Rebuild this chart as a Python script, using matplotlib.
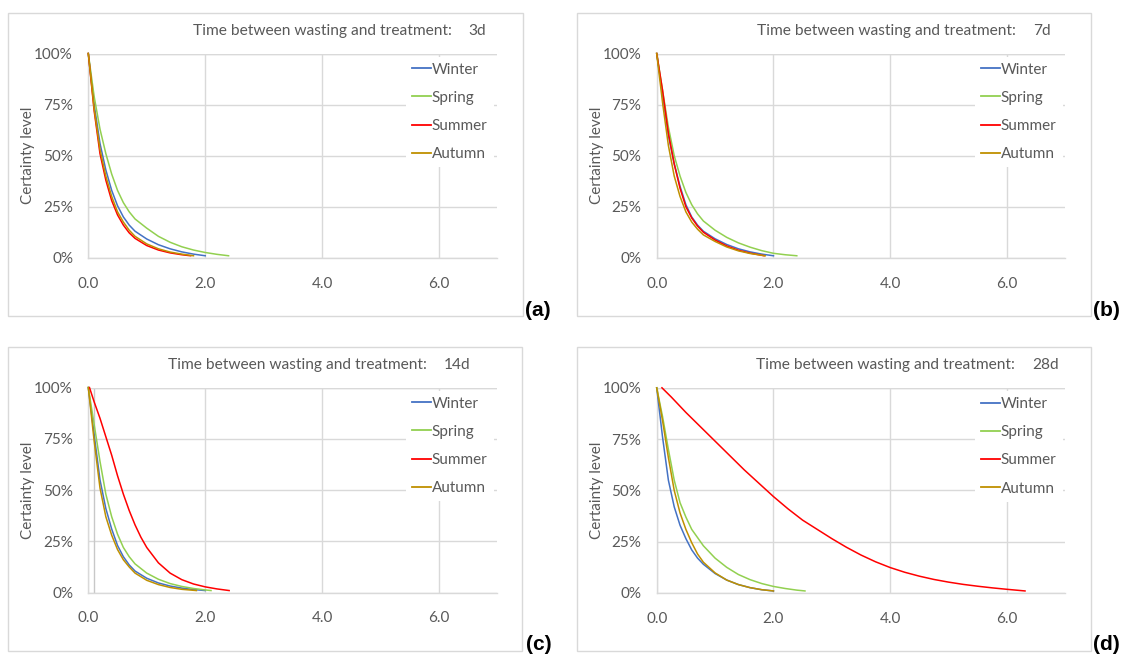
import matplotlib
matplotlib.use('Agg')
import matplotlib.pyplot as plt
from matplotlib.patches import Rectangle
from matplotlib.lines import Line2D
from matplotlib.ticker import FuncFormatter

# ---------------- data ----------------
seasons = ['Winter', 'Spring', 'Summer', 'Autumn']
panel_days = ['3d', '7d', '14d', '28d']
panel_tags = ['(a)', '(b)', '(c)', '(d)']
title_text = 'Time between wasting and treatment:'
ylabel_text = 'Certainty level'
x_ticks = [0.0, 2.0, 4.0, 6.0]
y_ticks = [0, 25, 50, 75, 100]

# panel (a) 3d
a_winter_x = [0, 0.1, 0.2, 0.3, 0.4, 0.5, 0.6, 0.7, 0.8, 1.0, 1.2, 1.4, 1.6, 1.8, 2.0]
a_winter_y = [100, 75, 56, 43, 33, 25.5, 20, 16, 13, 9.2, 6.4, 4.4, 2.9, 1.8, 1.0]
a_spring_x = [0, 0.1, 0.2, 0.3, 0.4, 0.5, 0.6, 0.7, 0.8, 1.0, 1.2, 1.4, 1.6, 1.8, 2.0, 2.2, 2.4]
a_spring_y = [100, 79, 63, 51, 41, 33, 27, 22.5, 19, 14.5, 10.5, 7.6, 5.4, 3.8, 2.6, 1.7, 1.0]
a_summer_x = [0, 0.1, 0.2, 0.3, 0.4, 0.5, 0.6, 0.7, 0.8, 1.0, 1.2, 1.4, 1.6, 1.75]
a_summer_y = [100, 72, 51, 38, 28, 21, 16, 12.2, 9.5, 6.0, 3.8, 2.4, 1.5, 1.0]
a_autumn_x = [0, 0.1, 0.2, 0.3, 0.4, 0.5, 0.6, 0.7, 0.8, 1.0, 1.2, 1.4, 1.6, 1.8]
a_autumn_y = [100, 73, 53, 40, 30, 22.5, 17.5, 13.5, 10.5, 6.8, 4.4, 2.8, 1.8, 1.0]

# panel (b) 7d
b_winter_x = [0, 0.1, 0.2, 0.3, 0.4, 0.5, 0.6, 0.7, 0.8, 1.0, 1.2, 1.4, 1.6, 1.8, 2.0]
b_winter_y = [100, 80, 60, 46, 35, 26, 20, 16, 13, 9.3, 6.5, 4.4, 2.9, 1.8, 1.0]
b_spring_x = [0, 0.1, 0.2, 0.3, 0.4, 0.5, 0.6, 0.7, 0.8, 1.0, 1.2, 1.4, 1.6, 1.8, 2.0, 2.2, 2.4]
b_spring_y = [100, 82, 64, 50, 40, 32, 26, 21.5, 18, 13.5, 10, 7.3, 5.2, 3.5, 2.2, 1.5, 1.0]
b_summer_x = [0, 0.1, 0.2, 0.3, 0.4, 0.5, 0.6, 0.7, 0.8, 1.0, 1.2, 1.4, 1.6, 1.84]
b_summer_y = [100, 82, 61, 46, 34, 25, 19.5, 15.5, 12.5, 8.7, 5.8, 3.7, 2.3, 1.0]
b_autumn_x = [0, 0.1, 0.2, 0.3, 0.4, 0.5, 0.6, 0.7, 0.8, 1.0, 1.2, 1.4, 1.6, 1.86]
b_autumn_y = [100, 76, 55, 40, 30, 22.5, 17.5, 14, 11.2, 8.0, 5.3, 3.4, 2.1, 1.0]

# panel (c) 14d
c_winter_x = [0, 0.1, 0.2, 0.3, 0.4, 0.5, 0.6, 0.7, 0.8, 1.0, 1.2, 1.4, 1.6, 1.8, 2.0]
c_winter_y = [100, 77, 55, 41, 31, 23, 17.5, 13.5, 10.5, 7.0, 4.7, 3.2, 2.2, 1.5, 1.0]
c_spring_x = [0, 0.1, 0.2, 0.3, 0.4, 0.5, 0.6, 0.7, 0.8, 1.0, 1.2, 1.4, 1.6, 1.8, 2.0, 2.1]
c_spring_y = [100, 82, 64, 48, 37, 28.5, 22, 17.5, 14, 9.5, 6.5, 4.4, 3.0, 2.0, 1.3, 1.0]
c_summer_x = [0.02, 0.1, 0.2, 0.3, 0.4, 0.5, 0.6, 0.7, 0.8, 0.9, 1.0, 1.2, 1.4, 1.6, 1.8, 2.0, 2.2, 2.41]
c_summer_y = [100, 93, 85, 76, 67, 57, 48, 40, 33, 27, 22, 14.5, 9.5, 6.3, 4.2, 2.8, 1.8, 1.0]
c_autumn_x = [0, 0.1, 0.2, 0.3, 0.4, 0.5, 0.6, 0.7, 0.8, 1.0, 1.2, 1.4, 1.6, 1.85]
c_autumn_y = [100, 74, 51, 37, 28, 21, 16, 12.5, 9.5, 6.0, 3.9, 2.5, 1.6, 1.0]
c_marker_x = 0.1  # thin grey vertical line seen in panel (c)

# panel (d) 28d
d_winter_x = [0, 0.1, 0.2, 0.3, 0.4, 0.5, 0.6, 0.7, 0.8, 1.0, 1.2, 1.4, 1.6, 1.8, 2.0]
d_winter_y = [100, 76, 55, 42, 33, 26.5, 21, 17, 14, 9.5, 6.3, 4.1, 2.6, 1.6, 1.0]
d_spring_x = [0, 0.1, 0.2, 0.3, 0.4, 0.5, 0.6, 0.7, 0.8, 1.0, 1.2, 1.4, 1.6, 1.8, 2.0, 2.2, 2.4, 2.54]
d_spring_y = [100, 86, 70, 55, 44, 37, 31, 27, 23, 17, 12.5, 9, 6.5, 4.6, 3.2, 2.2, 1.4, 1.0]
d_summer_x = [0.09, 0.25, 0.5, 0.75, 1.0, 1.25, 1.5, 1.75, 2.0, 2.25, 2.5, 2.75, 3.0, 3.25, 3.5,
              3.75, 4.0, 4.25, 4.5, 4.75, 5.0, 5.25, 5.5, 5.75, 6.0, 6.31]
d_summer_y = [100, 95.5, 88, 81, 74, 67, 60, 53.5, 47, 41, 35.5, 31, 26.5, 22.3, 18.5,
              15.2, 12.4, 10.1, 8.2, 6.6, 5.3, 4.2, 3.3, 2.5, 1.8, 1.0]
d_autumn_x = [0, 0.1, 0.2, 0.3, 0.4, 0.5, 0.6, 0.7, 0.8, 1.0, 1.2, 1.4, 1.6, 1.8, 2.0]
d_autumn_y = [100, 84, 66, 50, 39, 31, 24.5, 19, 15, 9.8, 6.3, 4.1, 2.6, 1.6, 1.0]

panels = [
    [(a_winter_x, a_winter_y), (a_spring_x, a_spring_y), (a_summer_x, a_summer_y), (a_autumn_x, a_autumn_y)],
    [(b_winter_x, b_winter_y), (b_spring_x, b_spring_y), (b_summer_x, b_summer_y), (b_autumn_x, b_autumn_y)],
    [(c_winter_x, c_winter_y), (c_spring_x, c_spring_y), (c_summer_x, c_summer_y), (c_autumn_x, c_autumn_y)],
    [(d_winter_x, d_winter_y), (d_spring_x, d_spring_y), (d_summer_x, d_summer_y), (d_autumn_x, d_autumn_y)],
]

# ---------------- style ----------------
colors = ['#4472C4', '#92D050', '#FF0000', '#BF9000']
txt_col = '#595959'
grid_col = '#D9D9D9'
FONT = 'Lato'
FS = 11

W, H = 1124, 655
fig = plt.figure(figsize=(W / 100, H / 100), dpi=100)
fig.patch.set_facecolor('white')


def fx(px):
    return px / W


def fy(py):
    return 1 - py / H


# panel geometry (pixels, from top-left)
geo = [
    dict(box=(8, 13, 523, 316), ax=(88.3, 53.5, 497.4, 257.8), tag=(525, 310), title_end=452, num_start=468),
    dict(box=(577, 13, 1091, 316), ax=(656.7, 53.5, 1065.3, 257.8), tag=(1093, 310), title_end=1016, num_start=1033),
    dict(box=(8, 347, 522, 651), ax=(88.3, 387.5, 497.4, 592.6), tag=(526, 645), title_end=427, num_start=444),
    dict(box=(577, 347, 1091, 651), ax=(656.7, 387.8, 1065.3, 593.0), tag=(1093, 645), title_end=1015, num_start=1032),
]

for i, g in enumerate(geo):
    x0, y0, x1, y1 = g['box']
    fig.patches.append(Rectangle((fx(x0), fy(y1)), fx(x1) - fx(x0), fy(y0) - fy(y1),
                                 transform=fig.transFigure, fill=False,
                                 edgecolor=grid_col, linewidth=1.0))
    l, t, r, b = g['ax']
    ax = fig.add_axes([fx(l), fy(b), fx(r) - fx(l), fy(t) - fy(b)])
    ax.set_facecolor('none')
    ax.set_xlim(0, 7)
    ax.set_ylim(0, 100)
    ax.set_xticks(x_ticks)
    ax.set_yticks(y_ticks)
    ax.xaxis.set_major_formatter(FuncFormatter(lambda v, p: f'{v:.1f}'))
    ax.yaxis.set_major_formatter(FuncFormatter(lambda v, p: f'{v:.0f}%'))
    ax.grid(True, color=grid_col, linewidth=1.0)
    ax.set_axisbelow(True)
    for s in ['top', 'right']:
        ax.spines[s].set_visible(False)
    for s in ['left', 'bottom']:
        ax.spines[s].set_color(grid_col)
        ax.spines[s].set_linewidth(1.0)
    ax.tick_params(length=0, labelcolor=txt_col, labelsize=FS)
    ax.tick_params(axis='y', pad=11)
    ax.tick_params(axis='x', pad=13.5)
    for lab in ax.get_xticklabels() + ax.get_yticklabels():
        lab.set_fontfamily(FONT)

    if i == 2:
        ax.plot([c_marker_x, c_marker_x], [0, 100], color='#C8C8C8', linewidth=1.0, zorder=1)

    handles = []
    for (xs, ys), col, name in zip(panels[i], colors, seasons):
        ax.plot(xs, ys, color=col, linewidth=1.1, label=name, zorder=3, clip_on=False)
        handles.append(Line2D([], [], color=col, linewidth=1.3))

    leg = ax.legend(handles, seasons, loc='upper left',
                    bbox_to_anchor=(fx(x0 + 398), fy(t + 3)), bbox_transform=fig.transFigure,
                    borderaxespad=0,
                    frameon=True, facecolor='white', edgecolor='none', framealpha=1,
                    fancybox=False, borderpad=0.4, handlelength=1.24, handletextpad=0.05,
                    labelspacing=0.93, prop={'family': FONT, 'size': FS})
    for tx in leg.get_texts():
        tx.set_color(txt_col)
    leg.set_zorder(2)
    ax.axhline(100, color=grid_col, linewidth=1.0, zorder=2.5)

    # title
    fig.text(fx(g['title_end']), fy(y0 + 18), title_text, ha='right', va='center',
             fontsize=11.2, color=txt_col, family=FONT)
    fig.text(fx(g['num_start']), fy(y0 + 18), panel_days[i], ha='left', va='center',
             fontsize=11.2, color=txt_col, family=FONT)
    # y label
    fig.text(fx(x0 + 20), fy((t + b) / 2), ylabel_text, rotation=90, ha='center', va='center',
             fontsize=FS, color=txt_col, family=FONT)
    # panel tag
    fig.text(fx(g['tag'][0]), fy(g['tag'][1]), panel_tags[i], ha='left', va='center',
             fontsize=15, fontweight='bold', color='black', family='Liberation Sans')

fig.savefig('out.png', dpi=100, facecolor='white')
